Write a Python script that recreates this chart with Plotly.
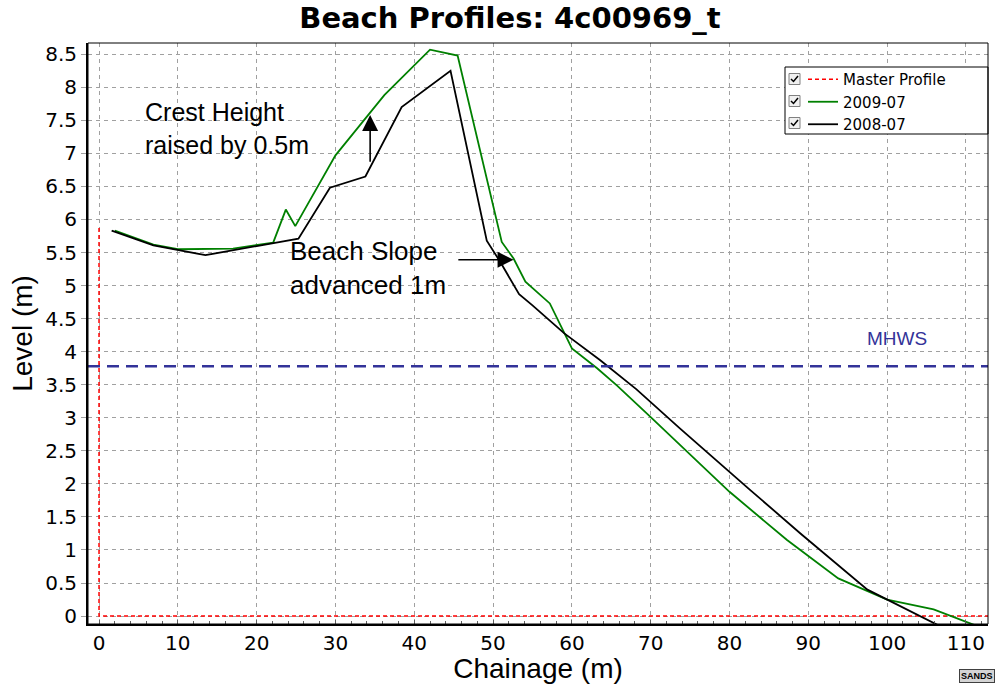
import plotly.graph_objects as go

# ---------------- data ----------------
title_text = "Beach Profiles: 4c00969_t"
x_title = "Chainage (m)"
y_title = "Level (m)"

master_name = "Master Profile"
master_chainage = [0, 0, 113]
master_level = [5.87, 0, 0]

name_2009 = "2009-07"
chainage_2009 = [2, 6.9, 10, 17, 22.1, 23.7, 24.9, 30, 36.2, 42, 45.5, 51.1, 52.6, 54.1,
                 57.2, 60, 63.2, 65.7, 69.9, 76.2, 80, 87.3, 93.8, 100, 105.9, 111.4]
level_2009 = [5.83, 5.62, 5.55, 5.56, 5.65, 6.15, 5.90, 6.97, 7.88, 8.57, 8.48, 5.66, 5.41, 5.06,
              4.73, 4.05, 3.75, 3.49, 3.02, 2.31, 1.88, 1.15, 0.57, 0.25, 0.10, -0.15]

name_2008 = "2008-07"
chainage_2008 = [1.6, 6.9, 13.5, 22.1, 25.3, 29.3, 33.8, 38.4, 44.6, 49.2, 50.9, 53.3, 55,
                 59, 63.6, 68.2, 73.7, 82.6, 89, 97.5, 106.5]
level_2008 = [5.83, 5.61, 5.46, 5.65, 5.71, 6.48, 6.65, 7.70, 8.25, 5.68, 5.36, 4.87, 4.70,
              4.28, 3.87, 3.43, 2.84, 1.91, 1.25, 0.40, -0.14]

mhws_label = "MHWS"
mhws_level = 3.78

crest_text = "Crest Height<br>raised by 0.5m"
slope_text = "Beach Slope<br>advanced 1m"
crest_arrow = dict(x=34.4, y_from=6.85, y_to=7.58)
slope_arrow = dict(y=5.39, x_from=45.4, x_to=52.6)

x_ticks = [0, 10, 20, 30, 40, 50, 60, 70, 80, 90, 100, 110]
y_ticks = [0, 0.5, 1, 1.5, 2, 2.5, 3, 3.5, 4, 4.5, 5, 5.5, 6, 6.5, 7, 7.5, 8, 8.5]
x_range = [-1.4, 112.8]
y_range = [-0.12, 8.67]

# ---------------- layout helpers ----------------
W, H = 996, 684
L, R, T, B = 88, 8, 43, 60
PW, PH = W - L - R, H - T - B


def px(xp):
    return (xp - L) / PW


def py(yp):
    return (H - B - yp) / PH


ARIAL = "Arial, Liberation Sans, sans-serif"
DEJAVU = "DejaVu Sans, sans-serif"

fig = go.Figure()
fig.add_trace(go.Scatter(x=master_chainage, y=master_level, mode="lines", name=master_name,
                         line=dict(color="#ff0000", width=1.5, dash="4px,3px")))
fig.add_trace(go.Scatter(x=chainage_2009, y=level_2009, mode="lines", name=name_2009,
                         line=dict(color="#008000", width=1.8)))
fig.add_trace(go.Scatter(x=chainage_2008, y=level_2008, mode="lines", name=name_2008,
                         line=dict(color="#000000", width=1.8)))

fig.add_hline(y=mhws_level, line=dict(color="#333399", width=2.5, dash="12px,7px"))

fig.add_annotation(x=101.3, y=4.2, text=mhws_label, showarrow=False,
                   font=dict(family=ARIAL, size=19, color="#333399"))

fig.add_annotation(x=5.6, y=7.37, text=crest_text, showarrow=False, xanchor="left",
                   align="left", font=dict(family=ARIAL, size=25, color="black"))
fig.add_annotation(x=24.0, y=5.27, text=slope_text, showarrow=False, xanchor="left",
                   align="left", font=dict(family=ARIAL, size=26, color="black"))

fig.add_annotation(x=crest_arrow["x"], y=crest_arrow["y_to"], ax=crest_arrow["x"],
                   ay=crest_arrow["y_from"], axref="x", ayref="y", xref="x", yref="y",
                   text="", showarrow=True, arrowhead=2, arrowsize=2, arrowwidth=1.6,
                   arrowcolor="black", standoff=0)
fig.add_annotation(x=slope_arrow["x_to"], y=slope_arrow["y"], ax=slope_arrow["x_from"],
                   ay=slope_arrow["y"], axref="x", ayref="y", xref="x", yref="y",
                   text="", showarrow=True, arrowhead=2, arrowsize=2, arrowwidth=1.6,
                   arrowcolor="black", standoff=0)

# legend frame and check boxes (decoration)
row_y = [79, 101, 123]
fig.add_shape(type="rect", xref="paper", yref="paper", x0=px(785), x1=px(988),
              y0=py(134), y1=py(67), line=dict(color="black", width=1),
              fillcolor="white", layer="above")
for cy in row_y:
    fig.add_shape(type="rect", xref="paper", yref="paper", x0=px(789), x1=px(800),
                  y0=py(cy + 5.5), y1=py(cy - 5.5), line=dict(color="#808080", width=1),
                  fillcolor="#f0f0f0", layer="above")
    fig.add_shape(type="path", xref="paper", yref="paper",
                  path=f"M {px(791)},{py(cy)} L {px(793.5)},{py(cy + 2.5)} L {px(798)},{py(cy - 3)}",
                  line=dict(color="black", width=1.5), layer="above")

# plot frame
fig.add_shape(type="rect", xref="paper", yref="paper", x0=0, x1=1, y0=0, y1=1,
              line=dict(color="black", width=1), layer="above")

fig.add_annotation(xref="paper", yref="paper", x=px(995), y=py(683), xanchor="right",
                   yanchor="bottom", text="<b>SANDS</b>", showarrow=False,
                   font=dict(family=ARIAL, size=9, color="black"), bgcolor="#d4d4d4",
                   bordercolor="#404040", borderwidth=1, borderpad=1)

grid_col = "#a0a0a0"
fig.update_xaxes(range=x_range, tickmode="array", tickvals=x_ticks,
                 showgrid=True, gridcolor=grid_col, griddash="4px,4px", gridwidth=1,
                 zeroline=False, showline=True, linecolor="black", linewidth=2,
                 ticks="inside", ticklen=4, tickcolor="#606060",
                 minor=dict(dtick=2, tick0=0, ticks="inside", ticklen=3, tickcolor="#606060", showgrid=False),
                 tickfont=dict(family=DEJAVU, size=20, color="black"),
                 title=dict(text=x_title, font=dict(family=ARIAL, size=28, color="black"), standoff=0))
fig.update_yaxes(range=y_range, tickmode="array", tickvals=y_ticks,
                 showgrid=True, gridcolor=grid_col, griddash="4px,4px", gridwidth=1,
                 zeroline=False, showline=True, linecolor="black", linewidth=2,
                 ticks="outside", ticklen=5, tickcolor=grid_col,
                 tickfont=dict(family=DEJAVU, size=20, color="black"),
                 title=dict(text=y_title, font=dict(family=ARIAL, size=28, color="black"), standoff=4))

fig.update_layout(
    width=W, height=H, autosize=False,
    margin=dict(l=L, r=R, t=T, b=B, autoexpand=False),
    paper_bgcolor="white", plot_bgcolor="white",
    title=dict(text=f"<b>{title_text}</b>", x=510 / W, xanchor="center", xref="container",
               y=1 - 18 / H, yanchor="middle", yref="container",
               font=dict(family=DEJAVU, size=29, color="black")),
    showlegend=True,
    legend=dict(x=px(803), y=py(63), xanchor="left", yanchor="top",
                bgcolor="rgba(0,0,0,0)", borderwidth=0,
                font=dict(family=DEJAVU, size=15, color="black"), tracegroupgap=0),
)

fig.write_html("out.html")
